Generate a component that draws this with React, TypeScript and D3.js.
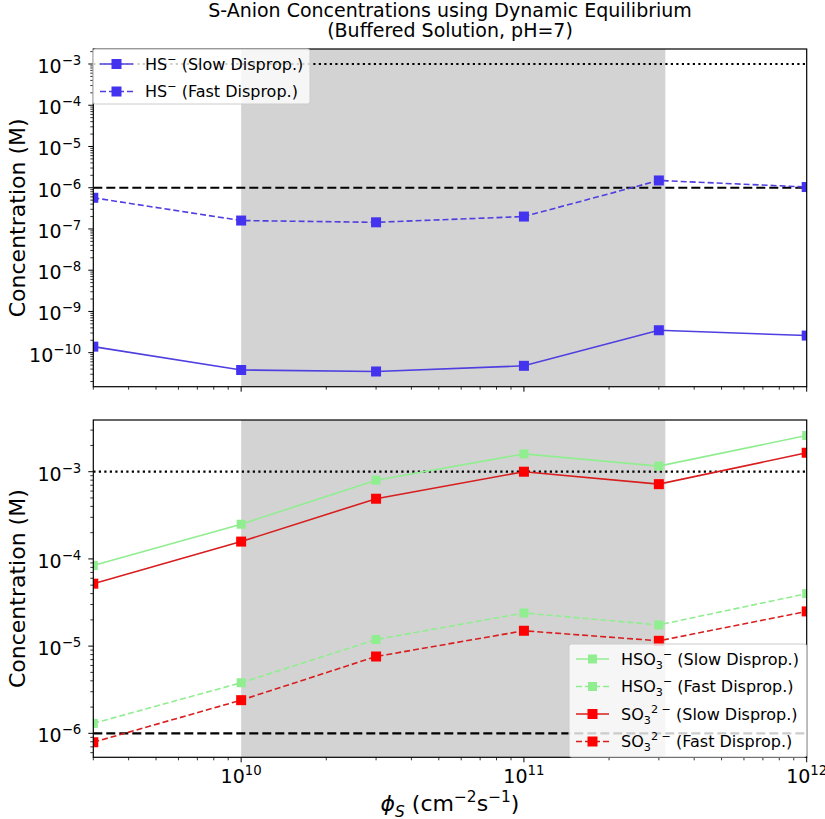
import * as d3 from 'd3';

// flux values (cm^-2 s^-1)
const flux = [3e9, 1e10, 3e10, 1e11, 3e11, 1e12];

// top panel: HS-
const hsSlow = [1.4e-10, 3.8e-11, 3.5e-11, 4.8e-11, 3.5e-10, 2.6e-10];
const hsFast = [5.7e-7, 1.6e-7, 1.45e-7, 2.0e-7, 1.5e-6, 1.04e-6];

// bottom panel: HSO3- and SO3 2-
const hso3Slow = [8.4e-5, 2.5e-4, 8.0e-4, 1.6e-3, 1.16e-3, 2.6e-3];
const hso3Fast = [1.3e-6, 3.8e-6, 1.19e-5, 2.4e-5, 1.75e-5, 4.0e-5];
const so3Slow = [5.2e-5, 1.58e-4, 4.9e-4, 1.0e-3, 7.2e-4, 1.65e-3];
const so3Fast = [7.9e-7, 2.4e-6, 7.6e-6, 1.5e-5, 1.15e-5, 2.5e-5];

const topDecades = [-3, -4, -5, -6, -7, -8, -9, -10];
const bottomDecades = [-3, -4, -5, -6];
const xDecades = [10, 11, 12];
const shade = [1e10, 10 ** 11.5];
const dottedLevel = 1e-3;
const dashedLevel = 1e-6;

const FONT = 'DejaVu Sans, sans-serif';
const TICK_FS = 19;

type Seg = { t: string; s?: 'sub' | 'sup'; i?: boolean };

function Rich({ segs, fs }: { segs: Seg[]; fs: number }) {
  let cur = 0;
  return (
    <>
      {segs.map((g, k) => {
        const target = g.s === 'sub' ? fs * 0.28 : g.s === 'sup' ? -fs * 0.42 : 0;
        const dy = target - cur;
        cur = target;
        return (
          <tspan key={k} dy={dy} fontSize={g.s ? fs * 0.7 : fs} fontStyle={g.i ? 'italic' : 'normal'}>
            {g.t}
          </tspan>
        );
      })}
    </>
  );
}

interface Series {
  values: number[];
  line: string;
  marker: string;
  dash?: string;
  size: number;
  label: Seg[];
}

const blueLine = '#4f3fe0';
const blueMark = '#4433ee';
const greenCol = '#90ee90';
const redLine = '#d81e1e';
const redMark = '#ff0000';

const topSeries: Series[] = [
  { values: hsSlow, line: blueLine, marker: blueMark, size: 10, label: [{ t: 'HS' }, { t: '−', s: 'sup' }, { t: ' (Slow Disprop.)' }] },
  { values: hsFast, line: blueLine, marker: blueMark, dash: '6,3', size: 10, label: [{ t: 'HS' }, { t: '−', s: 'sup' }, { t: ' (Fast Disprop.)' }] },
];

const bottomSeries: Series[] = [
  { values: hso3Slow, line: greenCol, marker: greenCol, size: 9, label: [{ t: 'HSO' }, { t: '3', s: 'sub' }, { t: '−', s: 'sup' }, { t: ' (Slow Disprop.)' }] },
  { values: hso3Fast, line: greenCol, marker: greenCol, dash: '6,3', size: 9, label: [{ t: 'HSO' }, { t: '3', s: 'sub' }, { t: '−', s: 'sup' }, { t: ' (Fast Disprop.)' }] },
  { values: so3Slow, line: redLine, marker: redMark, size: 10, label: [{ t: 'SO' }, { t: '3', s: 'sub' }, { t: '2 −', s: 'sup' }, { t: ' (Slow Disprop.)' }] },
  { values: so3Fast, line: redLine, marker: redMark, dash: '6,3', size: 10, label: [{ t: 'SO' }, { t: '3', s: 'sub' }, { t: '2 −', s: 'sup' }, { t: ' (Fast Disprop.)' }] },
];

const X0 = 93.3;
const X1 = 806.7;
const x = d3.scaleLog().domain([3e9, 1e12]).range([X0, X1]);

function minorTicks(lo: number, hi: number) {
  const out: number[] = [];
  for (let k = Math.floor(Math.log10(lo)); k <= Math.ceil(Math.log10(hi)); k++) {
    for (let m = 2; m <= 9; m++) {
      const v = m * 10 ** k;
      if (v >= lo * 0.999 && v <= hi * 1.001) out.push(v);
    }
  }
  return out;
}

interface PanelProps {
  id: string;
  top: number;
  bottom: number;
  yDomain: [number, number];
  decades: number[];
  series: Series[];
  xLabels: boolean;
  legend: { x: number; y: number; w: number; h: number };
}

function Panel({ id, top, bottom, yDomain, decades, series, xLabels, legend }: PanelProps) {
  const y = d3.scaleLog().domain(yDomain).range([bottom, top]);
  const line = d3.line<number>().x((_, i) => x(flux[i])).y((d) => y(d));
  const xMinor = minorTicks(3e9, 1e12).filter((v) => !xDecades.some((k) => Math.abs(v - 10 ** k) < 1));
  const yMinor = minorTicks(yDomain[0], yDomain[1]);
  const rowH = 27.5;
  return (
    <g>
      <defs>
        <clipPath id={id}>
          <rect x={X0} y={top} width={X1 - X0} height={bottom - top} />
        </clipPath>
      </defs>
      <g clipPath={`url(#${id})`}>
        <rect x={x(shade[0])} y={top} width={x(shade[1]) - x(shade[0])} height={bottom - top} fill="#d3d3d3" />
        <line x1={X0} x2={X1} y1={y(dottedLevel)} y2={y(dottedLevel)} stroke="#000" strokeWidth={2.2} strokeDasharray="2.2,3.3" />
        <line x1={X0} x2={X1} y1={y(dashedLevel)} y2={y(dashedLevel)} stroke="#000" strokeWidth={2.2} strokeDasharray="9,4" />
        {series.map((s, si) => (
          <g key={si}>
            <path d={line(s.values) || ''} fill="none" stroke={s.line} strokeWidth={1.6} strokeDasharray={s.dash} />
            {s.values.map((v, i) => (
              <rect key={i} x={x(flux[i]) - s.size / 2} y={y(v) - s.size / 2} width={s.size} height={s.size} fill={s.marker} />
            ))}
          </g>
        ))}
      </g>
      {/* frame */}
      <rect x={X0} y={top} width={X1 - X0} height={bottom - top} fill="none" stroke="#000" strokeWidth={1.2} />
      {/* x ticks */}
      {xDecades.map((k) => (
        <g key={k}>
          <line x1={x(10 ** k)} x2={x(10 ** k)} y1={bottom} y2={bottom + 5} stroke="#000" strokeWidth={1} />
          {xLabels && (
            <text x={x(10 ** k)} y={bottom + 26} textAnchor="middle" fontFamily={FONT} fontSize={TICK_FS}>
              <Rich fs={TICK_FS} segs={[{ t: '10' }, { t: String(k), s: 'sup' }]} />
            </text>
          )}
        </g>
      ))}
      {xMinor.map((v, i) => (
        <line key={i} x1={x(v)} x2={x(v)} y1={bottom} y2={bottom + 3} stroke="#000" strokeWidth={0.8} />
      ))}
      {/* y ticks */}
      {decades.map((k) => (
        <g key={k}>
          <line x1={X0 - 5} x2={X0} y1={y(10 ** k)} y2={y(10 ** k)} stroke="#000" strokeWidth={1} />
          <text x={X0 - 12} y={y(10 ** k) + 9} textAnchor="end" fontFamily={FONT} fontSize={TICK_FS}>
            <Rich fs={TICK_FS} segs={[{ t: '10' }, { t: `−${-k}`, s: 'sup' }]} />
          </text>
        </g>
      ))}
      {yMinor.map((v, i) => (
        <line key={i} x1={X0 - 3} x2={X0} y1={y(v)} y2={y(v)} stroke="#000" strokeWidth={0.8} />
      ))}
      <text
        transform={`translate(25,${(top + bottom) / 2}) rotate(-90)`}
        textAnchor="middle"
        fontFamily={FONT}
        fontSize={22}
      >
        Concentration (M)
      </text>
      {/* legend */}
      <rect x={legend.x} y={legend.y} width={legend.w} height={legend.h} rx={2.5} fill="#fff" fillOpacity={0.8} stroke="#cccccc" strokeWidth={1} />
      {series.map((s, i) => {
        const cy = legend.y + 15 + i * rowH;
        const lx = legend.x + 7;
        return (
          <g key={i}>
            <line x1={lx} x2={lx + 33} y1={cy} y2={cy} stroke={s.line} strokeWidth={1.6} strokeDasharray={s.dash} />
            <rect x={lx + 16.5 - s.size / 2} y={cy - s.size / 2} width={s.size} height={s.size} fill={s.marker} />
            <text x={lx + 45} y={cy + 5.5} fontFamily={FONT} fontSize={16}>
              <Rich fs={16} segs={s.label} />
            </text>
          </g>
        );
      })}
    </g>
  );
}

export default function App() {
  const cx = (X0 + X1) / 2;
  return (
    <svg width={825} height={819} style={{ position: 'absolute', left: 0, top: 0, background: '#fff' }}>
      <rect width={825} height={819} fill="#fff" />
      <text x={cx} y={17} textAnchor="middle" fontFamily={FONT} fontSize={19}>
        S-Anion Concentrations using Dynamic Equilibrium
      </text>
      <text x={cx} y={37} textAnchor="middle" fontFamily={FONT} fontSize={19}>
        (Buffered Solution, pH=7)
      </text>
      <Panel
        id="clipTop"
        top={49}
        bottom={386.7}
        yDomain={[10 ** -10.825, 10 ** -2.636]}
        decades={topDecades}
        series={topSeries}
        xLabels={false}
        legend={{ x: 93, y: 49, w: 217, h: 55 }}
      />
      <Panel
        id="clipBottom"
        top={420}
        bottom={757.3}
        yDomain={[10 ** -6.275, 10 ** -2.407]}
        decades={bottomDecades}
        series={bottomSeries}
        xLabels={true}
        legend={{ x: 569, y: 644, w: 237.7, h: 113 }}
      />
      <text x={cx} y={811} textAnchor="middle" fontFamily={FONT} fontSize={22}>
        <Rich
          fs={22}
          segs={[
            { t: 'ϕ', i: true },
            { t: 'S', s: 'sub', i: true },
            { t: ' (cm' },
            { t: '−2', s: 'sup' },
            { t: 's' },
            { t: '−1', s: 'sup' },
            { t: ')' },
          ]}
        />
      </text>
    </svg>
  );
}
